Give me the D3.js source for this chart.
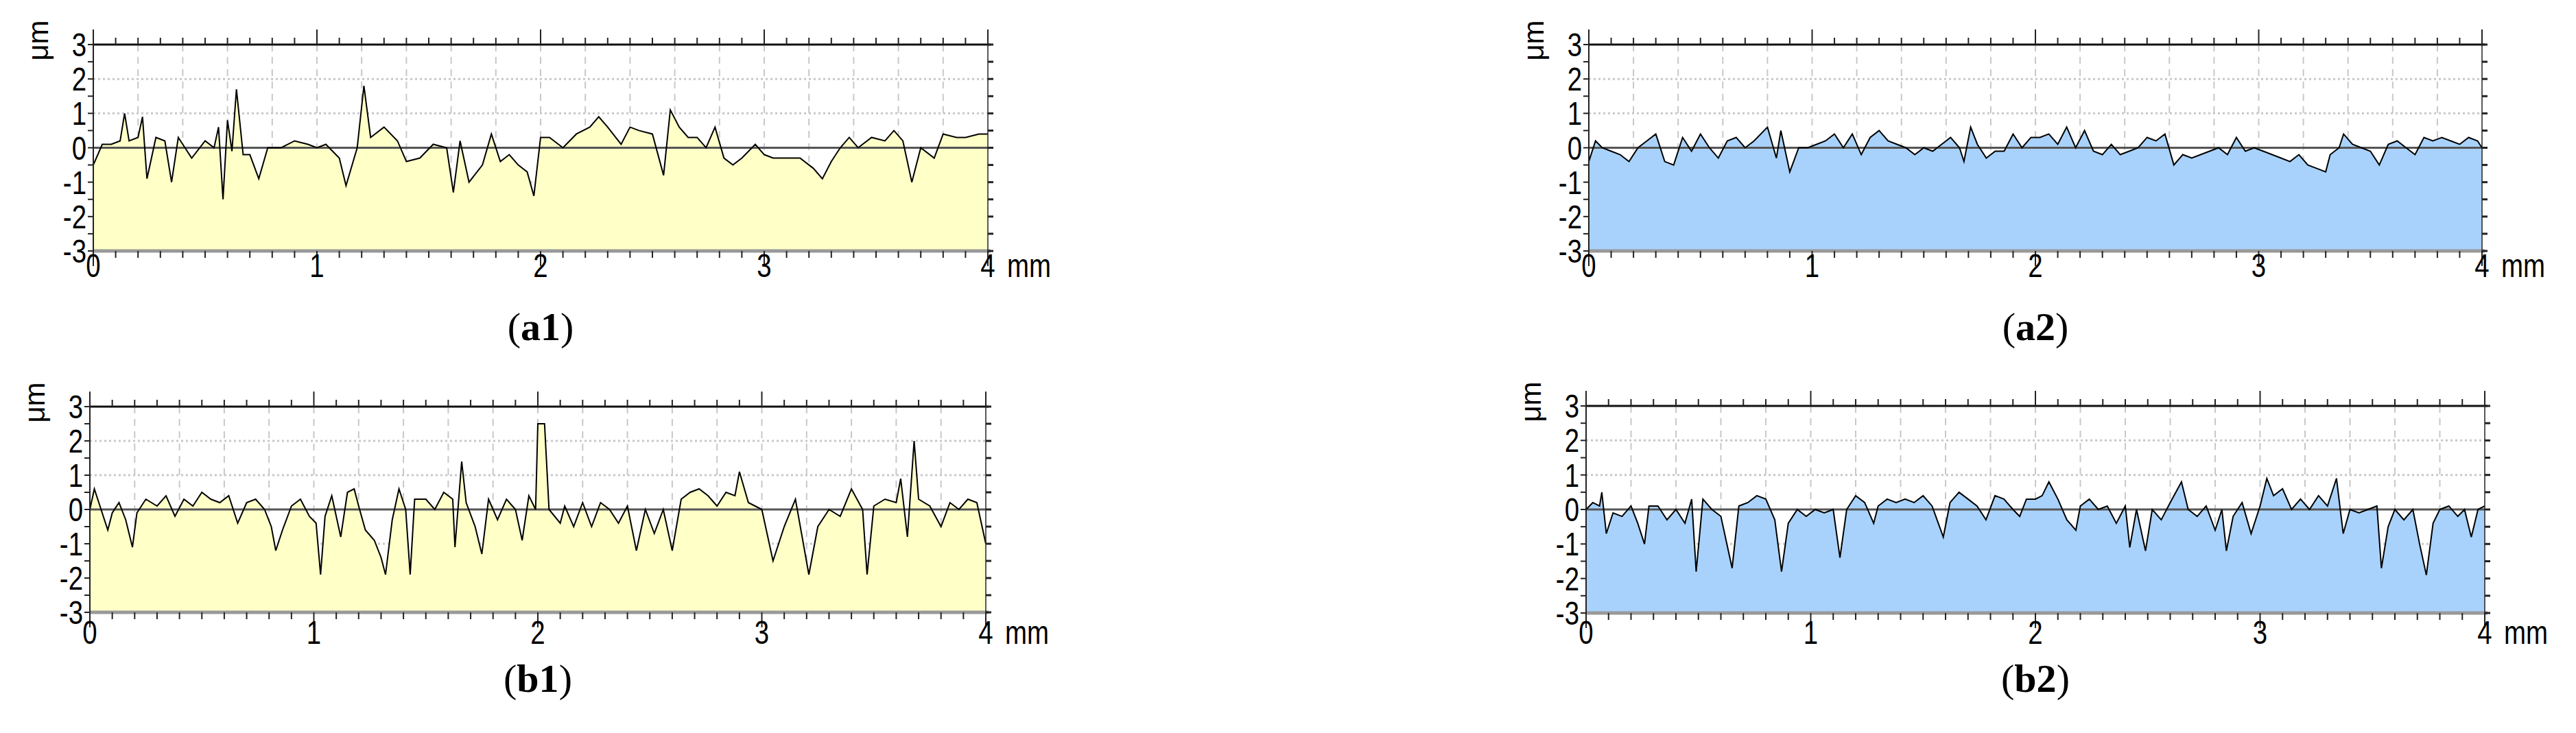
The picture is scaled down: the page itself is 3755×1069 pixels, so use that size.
<!DOCTYPE html>
<html>
<head>
<meta charset="utf-8">
<script src="https://cdn.jsdelivr.net/npm/d3@7"></script>
<style>
  body { margin: 0; background: #fff; }
  svg { display: block; }
</style>
</head>
<body>
<svg id="chart" width="3755" height="1069"></svg>
<script>
// profiles: [distance mm, height um]
const profileA1 = [[0,-0.5],[0.04,0.1],[0.08,0.1],[0.12,0.2],[0.14,1.0],[0.16,0.2],[0.2,0.3],[0.22,0.9],[0.24,-0.9],[0.28,0.3],[0.32,0.2],[0.35,-1.0],[0.38,0.3],[0.44,-0.3],[0.5,0.2],[0.54,0.0],[0.56,0.6],[0.58,-1.5],[0.6,0.8],[0.62,-0.1],[0.64,1.7],[0.67,-0.2],[0.7,-0.2],[0.74,-0.9],[0.78,0.0],[0.84,0.0],[0.9,0.2],[0.96,0.1],[1.0,0.0],[1.04,0.1],[1.1,-0.3],[1.13,-1.1],[1.18,0.0],[1.21,1.8],[1.24,0.3],[1.3,0.6],[1.36,0.2],[1.4,-0.4],[1.46,-0.3],[1.52,0.1],[1.58,0.0],[1.61,-1.3],[1.64,0.2],[1.68,-1.0],[1.74,-0.5],[1.78,0.4],[1.82,-0.4],[1.86,-0.2],[1.9,-0.5],[1.94,-0.7],[1.97,-1.4],[2.0,0.3],[2.04,0.3],[2.1,0.0],[2.16,0.4],[2.22,0.6],[2.26,0.9],[2.3,0.6],[2.36,0.1],[2.4,0.6],[2.44,0.5],[2.5,0.4],[2.55,-0.8],[2.58,1.1],[2.62,0.6],[2.66,0.3],[2.7,0.3],[2.74,0.0],[2.78,0.6],[2.82,-0.3],[2.86,-0.5],[2.9,-0.3],[2.96,0.1],[3.0,-0.2],[3.04,-0.3],[3.1,-0.3],[3.16,-0.3],[3.22,-0.6],[3.26,-0.9],[3.3,-0.4],[3.34,0.0],[3.38,0.3],[3.42,0.0],[3.48,0.3],[3.54,0.2],[3.58,0.5],[3.62,0.2],[3.66,-1.0],[3.7,0.0],[3.76,-0.3],[3.8,0.4],[3.86,0.3],[3.9,0.3],[3.96,0.4],[4.0,0.4]];

const profileA2 = [[0,-0.4],[0.03,0.2],[0.06,0.0],[0.1,-0.1],[0.14,-0.2],[0.18,-0.4],[0.22,0.0],[0.26,0.2],[0.3,0.4],[0.34,-0.4],[0.38,-0.5],[0.42,0.3],[0.46,-0.1],[0.5,0.4],[0.54,0.0],[0.58,-0.3],[0.62,0.2],[0.66,0.3],[0.7,0.0],[0.74,0.2],[0.8,0.6],[0.84,-0.3],[0.86,0.5],[0.9,-0.7],[0.94,0.0],[0.98,0.0],[1.02,0.1],[1.06,0.2],[1.1,0.4],[1.14,0.0],[1.18,0.4],[1.22,-0.2],[1.26,0.3],[1.3,0.5],[1.34,0.2],[1.38,0.1],[1.42,0.0],[1.46,-0.2],[1.5,0.0],[1.54,-0.1],[1.58,0.1],[1.62,0.3],[1.66,0.0],[1.68,-0.4],[1.71,0.6],[1.74,0.1],[1.78,-0.3],[1.82,-0.1],[1.86,-0.1],[1.9,0.4],[1.94,0.0],[1.98,0.3],[2.02,0.3],[2.06,0.4],[2.1,0.1],[2.14,0.6],[2.18,0.0],[2.22,0.5],[2.26,-0.1],[2.3,-0.2],[2.34,0.1],[2.38,-0.2],[2.42,-0.1],[2.46,0.0],[2.5,0.3],[2.54,0.2],[2.58,0.4],[2.62,-0.5],[2.66,-0.2],[2.7,-0.3],[2.74,-0.2],[2.78,-0.1],[2.82,0.0],[2.86,-0.2],[2.9,0.3],[2.94,-0.1],[2.98,0.0],[3.02,-0.1],[3.06,-0.2],[3.1,-0.3],[3.14,-0.4],[3.18,-0.2],[3.22,-0.5],[3.26,-0.6],[3.3,-0.7],[3.32,-0.2],[3.36,0.0],[3.38,0.4],[3.42,0.1],[3.46,0.0],[3.5,-0.1],[3.54,-0.5],[3.58,0.1],[3.62,0.2],[3.66,0.0],[3.7,-0.2],[3.74,0.3],[3.78,0.2],[3.82,0.3],[3.86,0.2],[3.9,0.1],[3.94,0.3],[3.98,0.2],[4.0,0.0]];

const profileB1 = [[0,0.0],[0.02,0.6],[0.05,0.0],[0.08,-0.6],[0.1,-0.1],[0.13,0.2],[0.16,-0.3],[0.19,-1.1],[0.21,-0.1],[0.25,0.3],[0.3,0.1],[0.34,0.4],[0.38,-0.2],[0.42,0.3],[0.46,0.1],[0.5,0.5],[0.54,0.3],[0.58,0.2],[0.62,0.4],[0.66,-0.4],[0.7,0.2],[0.74,0.3],[0.78,0.0],[0.81,-0.5],[0.83,-1.2],[0.86,-0.6],[0.9,0.1],[0.94,0.3],[0.98,-0.2],[1.01,-0.4],[1.03,-1.9],[1.05,-0.2],[1.08,0.4],[1.12,-0.8],[1.15,0.5],[1.18,0.6],[1.2,0.1],[1.23,-0.6],[1.27,-0.9],[1.3,-1.4],[1.32,-1.9],[1.35,-0.3],[1.38,0.6],[1.41,0.0],[1.43,-1.9],[1.45,0.3],[1.5,0.3],[1.54,0.0],[1.58,0.5],[1.62,0.3],[1.63,-1.1],[1.66,1.4],[1.68,0.2],[1.72,-0.5],[1.75,-1.3],[1.78,0.3],[1.82,-0.3],[1.86,0.3],[1.9,0.0],[1.93,-0.9],[1.96,0.4],[1.99,0.0],[2.0,2.5],[2.03,2.5],[2.05,0.0],[2.1,-0.4],[2.12,0.1],[2.16,-0.5],[2.2,0.2],[2.24,-0.5],[2.28,0.2],[2.32,0.0],[2.36,-0.4],[2.4,0.1],[2.44,-1.2],[2.48,0.0],[2.52,-0.7],[2.56,0.0],[2.6,-1.2],[2.64,0.3],[2.68,0.5],[2.72,0.6],[2.76,0.4],[2.8,0.1],[2.84,0.5],[2.88,0.4],[2.9,1.1],[2.94,0.2],[3.0,0.0],[3.05,-1.5],[3.1,-0.5],[3.15,0.3],[3.21,-1.9],[3.25,-0.5],[3.3,0.0],[3.35,-0.2],[3.4,0.6],[3.45,0.0],[3.47,-1.9],[3.5,0.1],[3.55,0.3],[3.6,0.2],[3.62,0.9],[3.65,-0.8],[3.68,2.0],[3.7,0.3],[3.75,0.1],[3.8,-0.5],[3.84,0.2],[3.88,0.0],[3.92,0.3],[3.96,0.2],[4.0,-1.0]];

const profileB2 = [[0,0.0],[0.03,0.2],[0.06,0.1],[0.07,0.5],[0.09,-0.7],[0.12,-0.1],[0.16,-0.2],[0.2,0.1],[0.23,-0.4],[0.26,-1.0],[0.28,0.1],[0.32,0.1],[0.36,-0.3],[0.4,0.0],[0.44,-0.4],[0.47,0.3],[0.49,-1.8],[0.52,0.3],[0.56,0.0],[0.6,-0.2],[0.65,-1.7],[0.68,0.1],[0.72,0.2],[0.76,0.4],[0.8,0.3],[0.84,-0.3],[0.87,-1.8],[0.9,-0.4],[0.94,0.0],[0.98,-0.2],[1.02,0.0],[1.06,-0.1],[1.1,0.0],[1.13,-1.4],[1.16,0.0],[1.2,0.4],[1.24,0.2],[1.28,-0.4],[1.3,0.1],[1.34,0.3],[1.38,0.2],[1.42,0.3],[1.46,0.2],[1.5,0.4],[1.54,0.1],[1.59,-0.8],[1.62,0.2],[1.66,0.5],[1.7,0.3],[1.74,0.1],[1.78,-0.3],[1.82,0.4],[1.86,0.3],[1.9,0.0],[1.93,-0.2],[1.96,0.3],[2.0,0.3],[2.03,0.4],[2.06,0.8],[2.1,0.3],[2.14,-0.3],[2.18,-0.6],[2.2,0.1],[2.24,0.3],[2.28,0.0],[2.32,0.1],[2.36,-0.4],[2.4,0.1],[2.42,-1.1],[2.45,0.0],[2.49,-1.2],[2.52,0.0],[2.56,-0.3],[2.6,0.2],[2.65,0.8],[2.68,0.0],[2.72,-0.2],[2.76,0.1],[2.8,-0.6],[2.83,0.0],[2.85,-1.2],[2.88,-0.2],[2.92,0.2],[2.96,-0.7],[3.0,0.1],[3.03,0.9],[3.06,0.4],[3.1,0.6],[3.14,0.0],[3.18,0.3],[3.22,0.0],[3.26,0.4],[3.3,0.1],[3.34,0.9],[3.37,-0.7],[3.4,0.0],[3.44,-0.1],[3.48,0.0],[3.52,0.1],[3.54,-1.7],[3.57,-0.5],[3.6,0.0],[3.64,-0.3],[3.68,0.0],[3.71,-1.0],[3.74,-1.9],[3.77,-0.4],[3.8,0.0],[3.84,0.1],[3.88,-0.2],[3.91,0.0],[3.94,-0.8],[3.97,0.0],[4.0,0.1]];

const xTicks = [0, 1, 2, 3, 4];
const yTicks = [-3, -2, -1, 0, 1, 2, 3];

const panels = [
    { name: "a1", data: profileA1, fill: "#ffffc8", left: 136, right: 1440, top: 65, bottom: 366, tickY: 404, titleY: 496 },
    { name: "a2", data: profileA2, fill: "#a8d2fc", left: 2316, right: 3618, top: 65, bottom: 366, tickY: 404, titleY: 496 },
    { name: "b1", data: profileB1, fill: "#ffffc8", left: 131, right: 1437, top: 593, bottom: 893, tickY: 939, titleY: 1009 },
    { name: "b2", data: profileB2, fill: "#a8d2fc", left: 2312, right: 3622, top: 592, bottom: 894, tickY: 939, titleY: 1009 },
];

const svg = d3.select("#chart");
const tickFont = "'Liberation Sans Narrow', 'Liberation Sans', Arial, sans-serif";

// narrow text: squeeze horizontally around its anchor point
const narrowText = (sel, x, y, anchor, str) =>
    sel.append("text")
        .attr("transform", `translate(${x}, ${y}) scale(0.8, 1)`)
        .attr("text-anchor", anchor)
        .style("font-family", tickFont).style("font-size", "48px")
        .text(str);

const drawPanel = (p) => {
    const g = svg.append("g");
    const x = d3.scaleLinear().domain([0, 4]).range([p.left, p.right]);
    const y = d3.scaleLinear().domain([-3, 3]).range([p.bottom, p.top]);

    // grid
    g.selectAll(".vgrid")
        .data(d3.range(0.2, 4, 0.2))
        .join("line")
        .attr("x1", (d) => x(d)).attr("x2", (d) => x(d))
        .attr("y1", p.top).attr("y2", p.bottom)
        .style("stroke", "#c8c8c8").style("stroke-width", 2)
        .style("stroke-dasharray", "10,8");
    g.selectAll(".hgrid")
        .data([-2, -1, 1, 2])
        .join("line")
        .attr("x1", p.left).attr("x2", p.right)
        .attr("y1", (d) => y(d)).attr("y2", (d) => y(d))
        .style("stroke", "#c8c8c8").style("stroke-width", 3)
        .style("stroke-dasharray", "3,4");

    // profile
    const area = d3.area().x((d) => x(d[0])).y0(y(-3)).y1((d) => y(d[1]));
    g.append("path").datum(p.data).attr("d", area).style("fill", p.fill);

    g.append("line")
        .attr("x1", p.left).attr("x2", p.right)
        .attr("y1", y(0)).attr("y2", y(0))
        .style("stroke", "#555").style("stroke-width", 3);

    const line = d3.line().x((d) => x(d[0])).y((d) => y(d[1]));
    g.append("path").datum(p.data).attr("d", line)
        .style("fill", "none").style("stroke", "#000").style("stroke-width", 2);

    // frame
    g.append("line").attr("x1", p.left).attr("x2", p.right + 4)
        .attr("y1", p.top).attr("y2", p.top)
        .style("stroke", "#111").style("stroke-width", 3);
    g.append("line").attr("x1", p.left).attr("x2", p.right + 4)
        .attr("y1", p.bottom).attr("y2", p.bottom)
        .style("stroke", "#999").style("stroke-width", 5);
    g.append("line").attr("x1", p.left).attr("x2", p.left)
        .attr("y1", p.top - 10).attr("y2", p.bottom + 10)
        .style("stroke", "#222").style("stroke-width", 2);
    g.append("line").attr("x1", p.right).attr("x2", p.right)
        .attr("y1", p.top - 10).attr("y2", p.bottom + 10)
        .style("stroke", "#222").style("stroke-width", 1.5);

    // x ticks, top and bottom
    const xMinor = d3.range(0, 4.001, 0.1);
    [p.top, p.bottom].forEach((yy, k) => {
        const dir = k === 0 ? -1 : 1;
        g.selectAll(null).data(xMinor).join("line")
            .attr("x1", (d) => x(d)).attr("x2", (d) => x(d))
            .attr("y1", yy)
            .attr("y2", (d) => yy + dir * (Math.abs(d - Math.round(d)) < 0.01 ? 22 : 10))
            .style("stroke", "#222").style("stroke-width", 2);
    });
    // y ticks on both sides
    const yMinor = d3.range(-3, 3.001, 0.5);
    g.selectAll(null).data(yMinor).join("line")
        .attr("x1", p.left - 8).attr("x2", p.left)
        .attr("y1", (d) => y(d)).attr("y2", (d) => y(d))
        .style("stroke", "#222").style("stroke-width", 2);
    g.selectAll(null).data(yMinor).join("line")
        .attr("x1", p.right).attr("x2", p.right + 8)
        .attr("y1", (d) => y(d)).attr("y2", (d) => y(d))
        .style("stroke", "#222").style("stroke-width", 3);

    // labels
    xTicks.forEach((d) => narrowText(g, x(d), p.tickY, "middle", d));
    narrowText(g, p.right + 28, p.tickY, "start", "mm");
    yTicks.forEach((d) =>
        narrowText(g, p.left - 10, y(d) + 17, "end", d < 0 ? "-" + Math.abs(d) : d)
    );
    g.append("text")
        .attr("transform", `translate(${p.left - 66}, ${p.top - 6}) rotate(-90)`)
        .attr("text-anchor", "middle")
        .style("font-family", tickFont).style("font-size", "42px")
        .text("μm");

    const t = g.append("text")
        .attr("x", (p.left + p.right) / 2).attr("y", p.titleY)
        .attr("text-anchor", "middle")
        .style("font-family", "'Liberation Serif', 'DejaVu Serif', serif")
        .style("font-size", "58px");
    t.append("tspan").text("(");
    t.append("tspan").style("font-weight", "bold").text(p.name);
    t.append("tspan").text(")");
};

panels.forEach(drawPanel);
</script>
</body>
</html>
